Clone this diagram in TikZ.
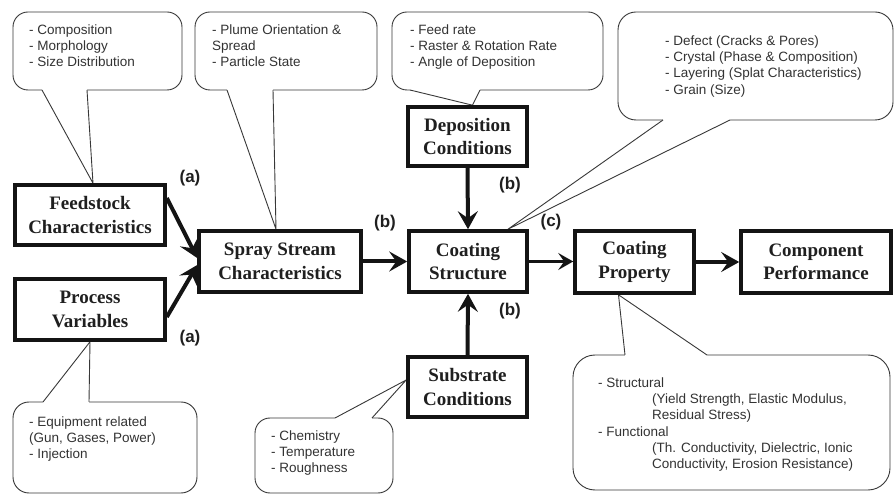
\documentclass[tikz,border=0pt]{standalone}
\usepackage{fontspec}
\setmainfont{Liberation Serif}
\setsansfont{Liberation Sans}
\usetikzlibrary{arrows.meta,calc}
\pgfdeclarelayer{bg}
\pgfsetlayers{bg,main}
\newcommand\mytail[4]{%
  \fill[white] ($#1+(0,#4)$) -- #1 -- #2 -- #3 -- ($#3+(0,#4)$) -- cycle;
  \draw[tail] #1 -- #2 -- #3;}
\begin{document}
\begin{tikzpicture}[x=1pt,y=-1pt,
  box/.style={draw=black!92, line width=3.6pt, fill=white, inner sep=0pt, align=center,
    font=\fontsize{19}{23.4}\selectfont\bfseries, text=black!88},
  bubble/.style={draw=black!78, line width=0.9pt, fill=white, rounded corners=#1},
  bubble/.default=15pt,
  btext/.style={anchor=north west, inner sep=0pt, align=left,
    font=\sffamily\fontsize{13.5}{16.3}\selectfont, text=black!80},
  tail/.style={draw=black!78, line width=0.9pt, line join=miter},
  lab/.style={font=\sffamily\bfseries\fontsize{17}{17}\selectfont, text=black!88},
  flow/.style={draw=black!92, line width=4pt, -{Stealth[length=18pt,width=20pt,inset=7pt]}},
  thinflow/.style={draw=black!92, line width=3pt, -{Stealth[length=15pt,width=17pt,inset=6pt]}},
]
\useasboundingbox (0,0) rectangle (895,494);

% boxes
\node[box, minimum width=150pt, minimum height=60pt] (feed) at (90,215) {Feedstock\\Characteristics};
\node[box, minimum width=150pt, minimum height=61pt] (proc) at (90,309.5) {Process\\Variables};
\node[box, minimum width=162pt, minimum height=61pt] (spray) at (280,261.5) {Spray Stream\\Characteristics};
\node[box, minimum width=118pt, minimum height=61pt] (cstruct) at (468,261.5) {Coating\\Structure};
\node[box, minimum width=119pt, minimum height=59pt] (dep) at (467.5,136.5) {Deposition\\Conditions};
\node[box, minimum width=119pt, minimum height=60pt] (sub) at (467.5,387) {Substrate\\Conditions};
\node[box, minimum width=119pt, minimum height=62pt] (cprop) at (634.5,262) {Coating\\Property};
\node[box, minimum width=150pt, minimum height=62pt] (comp) at (816,262) {Component\\Performance};

% arrows
\draw[flow] ([yshift=17pt]feed.east) -- ([yshift=3.5pt]spray.west);
\draw[flow] ([yshift=-7.5pt]proc.east) -- ([yshift=-3.5pt]spray.west);
\draw[flow] (spray.east) -- (cstruct.west);
\draw[flow] (dep.south) -- (cstruct.north);
\draw[flow] (sub.north) -- (cstruct.south);
\draw[thinflow] (cstruct.east) -- (cstruct.east -| cprop.west);
\draw[flow] (cprop.east) -- (cprop.east -| comp.west);

% labels
\node[lab] (la1) at (190,178) {(a)};
\node[lab] (la2) at (190,338) {(a)};
\node[lab] (lb1) at (385,223) {(b)};
\node[lab] (lb2) at (510,185) {(b)};
\node[lab] (lc) at (551,222) {(c)};
\node[lab] (lb3) at (510,311) {(b)};

% tail tips
\coordinate (t1) at ([xshift=3pt]feed.north);
\coordinate (t2) at ([xshift=-4pt]spray.north);
\coordinate (t3) at ([xshift=5pt]dep.north);
\coordinate (t4) at ([xshift=40pt]cstruct.north);
\coordinate (t5) at (proc.south);
\coordinate (t6) at ([yshift=7pt]sub.west);
\coordinate (t7) at ([xshift=-16pt]cprop.south);

\begin{pgfonlayer}{bg}
\fill[white] (0,0) rectangle (895,494);
\draw[bubble=15pt] (13,12) rectangle (182,90);
\mytail{(42,90)}{(t1)}{(87,90)}{-1.5}
\draw[bubble=15pt] (195,12) rectangle (377,90);
\mytail{(227,90)}{(t2)}{(273,90)}{-1.5}
\draw[bubble=15pt] (392,12) rectangle (603,90);
\mytail{(410,90)}{(t3)}{(480,90)}{-1.5}
\draw[bubble=18pt] (618,12) rectangle (893,120);
\mytail{(663,120)}{(t4)}{(730,120)}{-1.5}
\draw[bubble=16pt] (13,402) rectangle (197,493);
\mytail{(43,402)}{(t5)}{(89,402)}{1.5}
\draw[bubble=15pt] (255,418) rectangle (393,493);
\mytail{(335,418)}{(t6)}{(372,418)}{1.5}
\draw[bubble=22pt] (573,355) rectangle (890,490);
\mytail{(625,355)}{(t7)}{(707,355)}{1.5}
\end{pgfonlayer}

% callout texts
\node[btext] (c1) at (29,24.2) {- Composition\\- Morphology\\- Size Distribution};
\node[btext] (c2) at (212,24.2) {- Plume Orientation \&\\Spread\\- Particle State};
\node[btext] (c3) at (410,24.2) {- Feed rate\\- Raster \& Rotation Rate\\- Angle of Deposition};
\node[btext] (c4) at (665,35.2) {- Defect (Cracks \& Pores)\\- Crystal (Phase \& Composition)\\- Layering (Splat Characteristics)\\- Grain (Size)};
\node[btext] (c5) at (29,416.2) {- Equipment related\\(Gun, Gases, Power)\\- Injection};
\node[btext] (c6) at (271,430.2) {- Chemistry\\- Temperature\\- Roughness};
\node[btext] (c7) at (598,377.2) {- Structural\\\hspace*{54pt}(Yield Strength, Elastic Modulus,\\\hspace*{54pt}Residual Stress)\\- Functional\\\hspace*{54pt}(Th. Conductivity, Dielectric, Ionic\\\hspace*{54pt}Conductivity, Erosion Resistance)};
\end{tikzpicture}
\end{document}
